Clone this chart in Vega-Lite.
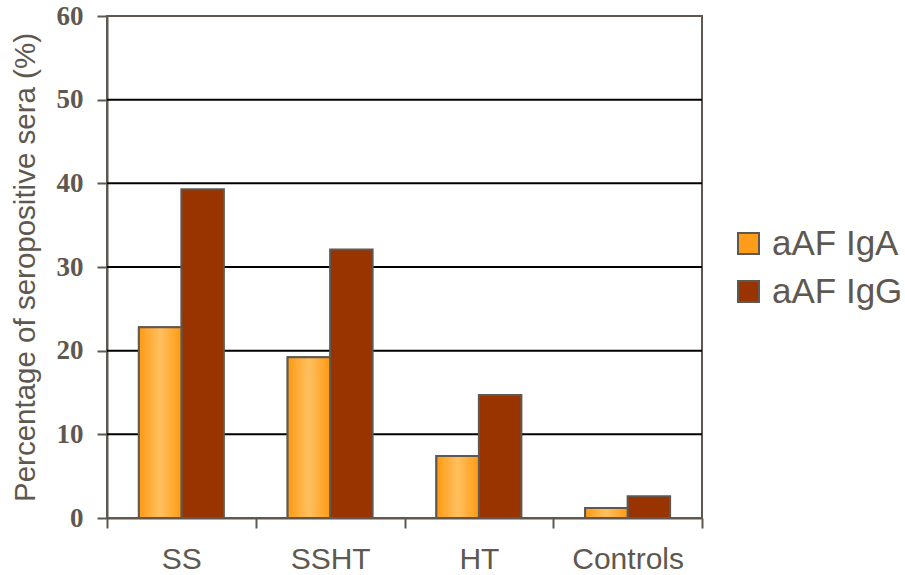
{
  "$schema": "https://vega.github.io/schema/vega-lite/v6.json",
  "autosize": "none",
  "width": 595,
  "height": 502,
  "padding": {"left": 107, "top": 16, "right": 203, "bottom": 57},
  "background": "white",
  "config": {
    "view": {"stroke": "#5E5850", "strokeWidth": 2},
    "axis": {"domainColor": "#5E5850", "tickColor": "#5E5850", "domainWidth": 2, "tickWidth": 2}
  },
  "datasets": {
    "bars": [
      {"group": "SS", "series": "aAF IgA", "value": 22.8},
      {"group": "SS", "series": "aAF IgG", "value": 39.3},
      {"group": "SSHT", "series": "aAF IgA", "value": 19.2},
      {"group": "SSHT", "series": "aAF IgG", "value": 32.1},
      {"group": "HT", "series": "aAF IgA", "value": 7.4},
      {"group": "HT", "series": "aAF IgG", "value": 14.7},
      {"group": "Controls", "series": "aAF IgA", "value": 1.2},
      {"group": "Controls", "series": "aAF IgG", "value": 2.6}
    ],
    "grid": [{"value": 10}, {"value": 20}, {"value": 30}, {"value": 40}, {"value": 50}]
  },
  "layer": [
    {
      "data": {"name": "grid"},
      "mark": {"type": "rule", "color": "black", "strokeWidth": 2},
      "encoding": {
        "y": {"field": "value", "type": "quantitative"}
      }
    },
    {
      "data": {"name": "bars"},
      "mark": {"type": "bar", "stroke": "#5E5850", "strokeWidth": 2},
      "encoding": {
        "x": {
          "field": "group", "type": "nominal", "sort": ["SS", "SSHT", "HT", "Controls"],
          "scale": {"paddingInner": 0, "paddingOuter": 0},
          "axis": {"title": null, "labelAngle": 0, "tickBand": "extent", "tickSize": 10,
            "labelFont": "Liberation Sans", "labelFontSize": 30, "labelColor": "#5E5850", "labelPadding": 16, "grid": false}
        },
        "xOffset": {
          "field": "series", "type": "nominal",
          "scale": {"paddingInner": 0, "paddingOuter": 0.75}
        },
        "y": {
          "field": "value", "type": "quantitative",
          "scale": {"domain": [0, 60], "nice": false},
          "axis": {"title": "Percentage of seropositive sera (%)", "values": [0, 10, 20, 30, 40, 50, 60],
            "tickSize": 10, "labelPadding": 14,
            "labelFont": "Liberation Serif", "labelFontWeight": "bold", "labelFontSize": 27, "labelColor": "#5E5850",
            "titleFont": "Liberation Sans", "titleFontSize": 29.5, "titleFontWeight": "normal", "titleColor": "#5E5850",
            "titlePadding": 16, "grid": false}
        },
        "color": {
          "field": "series", "type": "nominal",
          "scale": {"domain": ["aAF IgA", "aAF IgG"], "range": ["#FF9D1A", "#993300"]},
          "legend": {
            "title": null, "orient": "none", "legendX": 624, "legendY": 210,
            "symbolType": "square", "symbolSize": 441, "symbolStrokeColor": "#5E5850", "symbolStrokeWidth": 2,
            "labelFont": "Liberation Sans", "labelFontSize": 35, "labelColor": "#5E5850", "labelOffset": 6,
            "rowPadding": 12
          }
        }
      }
    },
    {
      "data": {"name": "bars"},
      "transform": [{"filter": "datum.series === 'aAF IgA'"}],
      "mark": {
        "type": "bar", "stroke": "#5E5850", "strokeWidth": 2,
        "fill": {"gradient": "linear", "x1": 0, "x2": 1, "y1": 0, "y2": 0,
          "stops": [{"offset": 0, "color": "#FF9A12"}, {"offset": 0.5, "color": "#FFC060"}, {"offset": 1, "color": "#FF9A12"}]}
      },
      "encoding": {
        "x": {"field": "group", "type": "nominal", "sort": ["SS", "SSHT", "HT", "Controls"]},
        "xOffset": {"field": "series", "type": "nominal"},
        "y": {"field": "value", "type": "quantitative"}
      }
    }
  ]
}
